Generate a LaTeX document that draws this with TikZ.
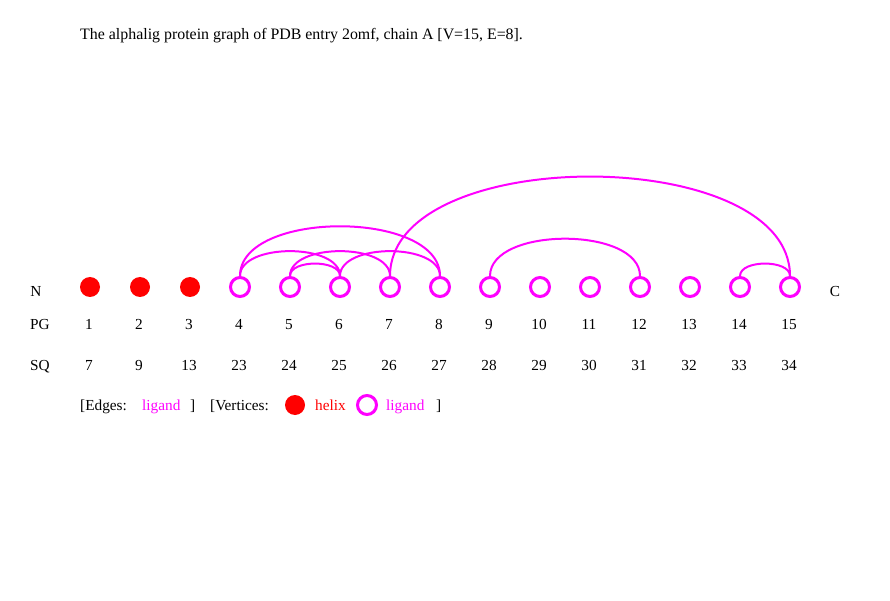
\documentclass[tikz,border=0pt]{standalone}
\usepackage{fontspec}
\setmainfont{Liberation Serif}
\definecolor{mag}{RGB}{255,0,255}
\definecolor{hred}{RGB}{255,0,0}
\begin{document}
\begin{tikzpicture}[x=1pt,y=1pt,
  every node/.style={font=\fontsize{15.3}{17}\selectfont, inner sep=0pt},
  helixv/.style={circle, fill=hred, minimum size=20pt},
  ligv/.style={circle, draw=mag, line width=3pt, minimum size=19pt},
  edge/.style={draw=mag, line width=2pt},
  lab/.style={anchor=base},
  leg/.style={anchor=base west}]
\useasboundingbox[fill=white] (0,0) rectangle (890,600);
\node[leg,font=\fontsize{15.9}{17}\selectfont] (title) at (80,560) {The alphalig protein graph of PDB entry 2omf, chain A [V=15, E=8].};
% vertices
\foreach \i in {1,2,3} {
  \node[helixv] (v\i) at ({40+50*\i},313) {};
}
\foreach \i in {4,...,15} {
  \node[ligv] (v\i) at ({40+50*\i},313) {};
}
\node[lab] (N) at (36,303) {N};
\node[lab] (C) at (835,303) {C};
\node[lab] (PG) at (40,270) {PG};
\node[lab] (SQ) at (40,230) {SQ};
\foreach \i/\s in {1/7,2/9,3/13,4/23,5/24,6/25,7/26,8/27,9/28,10/29,11/30,12/31,13/32,14/33,15/34} {
  \node[lab] (pg\i) at ({39+50*\i},270) {\i};
  \node[lab] (sq\i) at ({39+50*\i},230) {\s};
}
% edges
\foreach \a/\b in {4/8,4/6,5/6,5/7,6/8,7/15,9/12,14/15} {
  \draw[edge] (v\a.north) to[out=90,in=90,looseness=0.85] (v\b.north);
}
% legend
\node[leg] (le) at (80,190) {[Edges:};
\node[leg,text=mag] (lel) at (142,190) {ligand};
\node[leg] (le2) at (190,190) {]};
\node[leg] (lv) at (210,190) {[Vertices:};
\node[helixv] (lh) at (295,195) {};
\node[leg,text=hred] (lht) at (315,190) {helix};
\node[ligv] (ll) at (367,195) {};
\node[leg,text=mag] (llt) at (386,190) {ligand};
\node[leg] (lv2) at (436,190) {]};
\end{tikzpicture}
\end{document}
